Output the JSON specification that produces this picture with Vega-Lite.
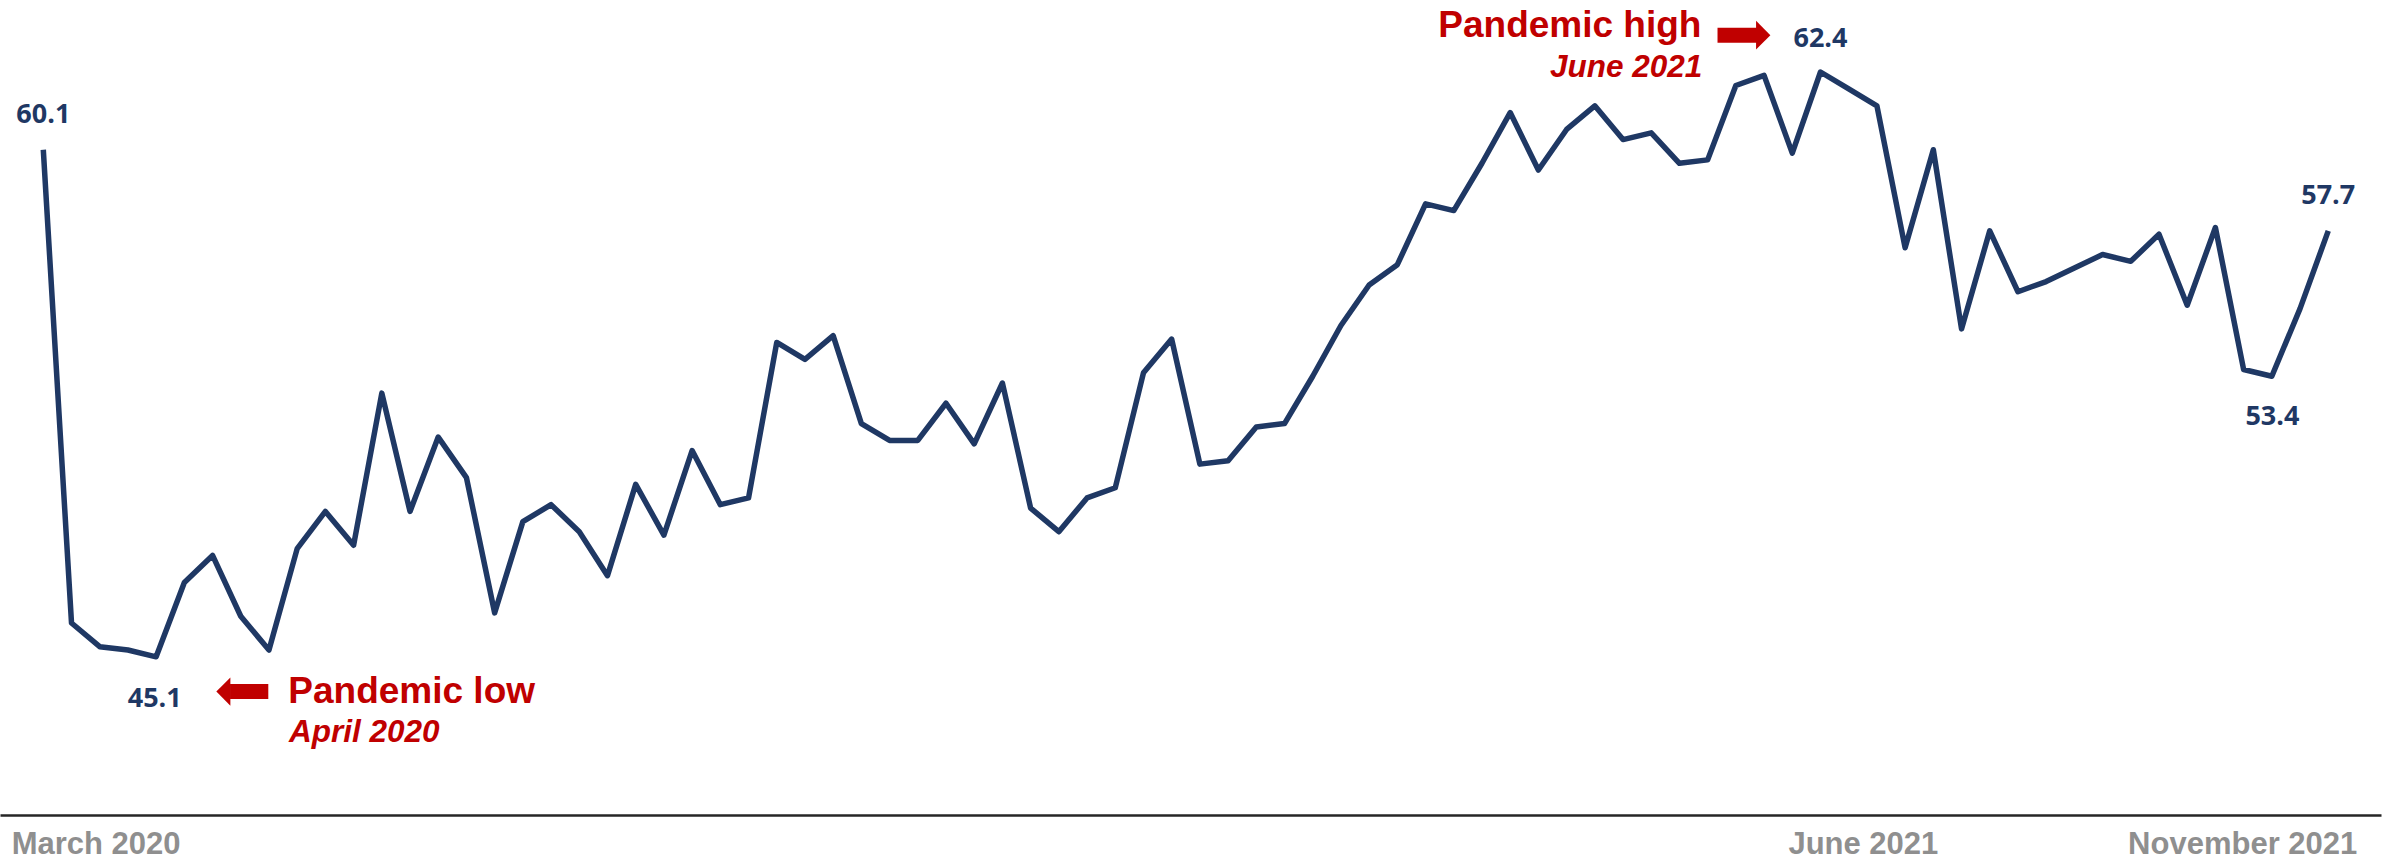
{
  "$schema": "https://vega.github.io/schema/vega-lite/v6.json",
  "width": 2381,
  "height": 815,
  "autosize": "none",
  "padding": {"left": 0, "top": 0, "right": 8, "bottom": 45},
  "background": "#ffffff",
  "config": {"view": {"stroke": null}},
  "datasets": {
    "series": [
      {"i": 0, "v": 60.1}, {"i": 1, "v": 46.1}, {"i": 2, "v": 45.4}, {"i": 3, "v": 45.3}, {"i": 4, "v": 45.1},
      {"i": 5, "v": 47.3}, {"i": 6, "v": 48.1}, {"i": 7, "v": 46.3}, {"i": 8, "v": 45.3}, {"i": 9, "v": 48.3},
      {"i": 10, "v": 49.4}, {"i": 11, "v": 48.4}, {"i": 12, "v": 52.9}, {"i": 13, "v": 49.4}, {"i": 14, "v": 51.6},
      {"i": 15, "v": 50.4}, {"i": 16, "v": 46.4}, {"i": 17, "v": 49.1}, {"i": 18, "v": 49.6}, {"i": 19, "v": 48.8},
      {"i": 20, "v": 47.5}, {"i": 21, "v": 50.2}, {"i": 22, "v": 48.7}, {"i": 23, "v": 51.2}, {"i": 24, "v": 49.6},
      {"i": 25, "v": 49.8}, {"i": 26, "v": 54.4}, {"i": 27, "v": 53.9}, {"i": 28, "v": 54.6}, {"i": 29, "v": 52.0},
      {"i": 30, "v": 51.5}, {"i": 31, "v": 51.5}, {"i": 32, "v": 52.6}, {"i": 33, "v": 51.4}, {"i": 34, "v": 53.2},
      {"i": 35, "v": 49.5}, {"i": 36, "v": 48.8}, {"i": 37, "v": 49.8}, {"i": 38, "v": 50.1}, {"i": 39, "v": 53.5},
      {"i": 40, "v": 54.5}, {"i": 41, "v": 50.8}, {"i": 42, "v": 50.9}, {"i": 43, "v": 51.9}, {"i": 44, "v": 52.0},
      {"i": 45, "v": 53.4}, {"i": 46, "v": 54.9}, {"i": 47, "v": 56.1}, {"i": 48, "v": 56.7}, {"i": 49, "v": 58.5},
      {"i": 50, "v": 58.3}, {"i": 51, "v": 59.7}, {"i": 52, "v": 61.2}, {"i": 53, "v": 59.5}, {"i": 54, "v": 60.7},
      {"i": 55, "v": 61.4}, {"i": 56, "v": 60.4}, {"i": 57, "v": 60.6}, {"i": 58, "v": 59.7}, {"i": 59, "v": 59.8},
      {"i": 60, "v": 62.0}, {"i": 61, "v": 62.3}, {"i": 62, "v": 60.0}, {"i": 63, "v": 62.4}, {"i": 64, "v": 61.9},
      {"i": 65, "v": 61.4}, {"i": 66, "v": 57.2}, {"i": 67, "v": 60.1}, {"i": 68, "v": 54.8}, {"i": 69, "v": 57.7},
      {"i": 70, "v": 55.9}, {"i": 71, "v": 56.2}, {"i": 72, "v": 56.6}, {"i": 73, "v": 57.0}, {"i": 74, "v": 56.8},
      {"i": 75, "v": 57.6}, {"i": 76, "v": 55.5}, {"i": 77, "v": 57.8}, {"i": 78, "v": 53.6}, {"i": 79, "v": 53.4},
      {"i": 80, "v": 55.4}, {"i": 81, "v": 57.7}
    ],
    "valueLabels": [
      {"i": 0, "v": 60.88, "text": "60.1"},
      {"i": 3.95, "v": 43.62, "text": "45.1"},
      {"i": 63, "v": 63.15, "text": "62.4"},
      {"i": 79.02, "v": 51.96, "text": "53.4"},
      {"i": 81, "v": 58.49, "text": "57.7"}
    ],
    "boldRight": [{"i": 58.78, "v": 63.44, "text": "Pandemic high"}],
    "italicRight": [{"i": 58.81, "v": 62.24, "text": "June 2021"}],
    "boldLeft": [{"i": 8.685, "v": 43.74, "text": "Pandemic low"}],
    "italicLeft": [{"i": 8.71, "v": 42.59, "text": "April 2020"}],
    "shafts": [
      {"i": 59.35, "i2": 60.75, "v": 63.49},
      {"i": 6.62, "i2": 7.976, "v": 44.07}
    ],
    "headRight": [{"i": 60.97, "v": 63.49}],
    "headLeft": [{"i": 6.383, "v": 44.07}],
    "axisLeft": [{"i": -1.12, "v": 39.28, "text": "March 2020"}],
    "axisCenter": [{"i": 64.52, "v": 39.28, "text": "June 2021"}],
    "axisRight": [{"i": 82.03, "v": 39.28, "text": "November 2021"}]
  },
  "encoding": {
    "x": {
      "field": "i",
      "type": "quantitative",
      "scale": {"domain": [-1.535, 82.87], "nice": false, "zero": false},
      "axis": {"domain": true, "domainColor": "#262626", "domainWidth": 2.7, "ticks": false, "labels": false, "grid": false, "title": null}
    },
    "y": {
      "field": "v",
      "type": "quantitative",
      "scale": {"domain": [40.42, 64.53], "nice": false, "zero": false},
      "axis": null
    }
  },
  "layer": [
    {
      "data": {"name": "series"},
      "mark": {"type": "line", "color": "#1f3864", "strokeWidth": 5.5, "strokeJoin": "round", "strokeCap": "butt"}
    },
    {
      "data": {"name": "valueLabels"},
      "mark": {"type": "text", "font": "Open Sans", "fontWeight": 700, "fontSize": 27, "color": "#1f3864", "align": "center", "baseline": "alphabetic"},
      "encoding": {"text": {"field": "text"}}
    },
    {
      "data": {"name": "boldRight"},
      "mark": {"type": "text", "font": "Liberation Sans", "fontWeight": "bold", "fontSize": 37, "color": "#c00000", "align": "right", "baseline": "alphabetic"},
      "encoding": {"text": {"field": "text"}}
    },
    {
      "data": {"name": "italicRight"},
      "mark": {"type": "text", "font": "Liberation Sans", "fontWeight": "bold", "fontStyle": "italic", "fontSize": 31.5, "color": "#c00000", "align": "right", "baseline": "alphabetic"},
      "encoding": {"text": {"field": "text"}}
    },
    {
      "data": {"name": "boldLeft"},
      "mark": {"type": "text", "font": "Liberation Sans", "fontWeight": "bold", "fontSize": 37, "color": "#c00000", "align": "left", "baseline": "alphabetic"},
      "encoding": {"text": {"field": "text"}}
    },
    {
      "data": {"name": "italicLeft"},
      "mark": {"type": "text", "font": "Liberation Sans", "fontWeight": "bold", "fontStyle": "italic", "fontSize": 31.5, "color": "#c00000", "align": "left", "baseline": "alphabetic"},
      "encoding": {"text": {"field": "text"}}
    },
    {
      "data": {"name": "shafts"},
      "mark": {"type": "rule", "color": "#c00000", "strokeWidth": 15, "strokeCap": "butt"},
      "encoding": {"x2": {"field": "i2"}}
    },
    {
      "data": {"name": "headRight"},
      "mark": {"type": "point", "shape": "M -0.5 -1 L 0.5 0 L -0.5 1 Z", "filled": true, "color": "#c00000", "size": 818, "opacity": 1, "strokeWidth": 0}
    },
    {
      "data": {"name": "headLeft"},
      "mark": {"type": "point", "shape": "M 0.5 -1 L -0.5 0 L 0.5 1 Z", "filled": true, "color": "#c00000", "size": 790, "opacity": 1, "strokeWidth": 0}
    },
    {
      "data": {"name": "axisLeft"},
      "mark": {"type": "text", "font": "Liberation Sans", "fontWeight": "bold", "fontSize": 31, "color": "#8f8f8f", "align": "left", "baseline": "alphabetic"},
      "encoding": {"text": {"field": "text"}}
    },
    {
      "data": {"name": "axisCenter"},
      "mark": {"type": "text", "font": "Liberation Sans", "fontWeight": "bold", "fontSize": 31, "color": "#8f8f8f", "align": "center", "baseline": "alphabetic"},
      "encoding": {"text": {"field": "text"}}
    },
    {
      "data": {"name": "axisRight"},
      "mark": {"type": "text", "font": "Liberation Sans", "fontWeight": "bold", "fontSize": 31, "color": "#8f8f8f", "align": "right", "baseline": "alphabetic"},
      "encoding": {"text": {"field": "text"}}
    }
  ]
}
